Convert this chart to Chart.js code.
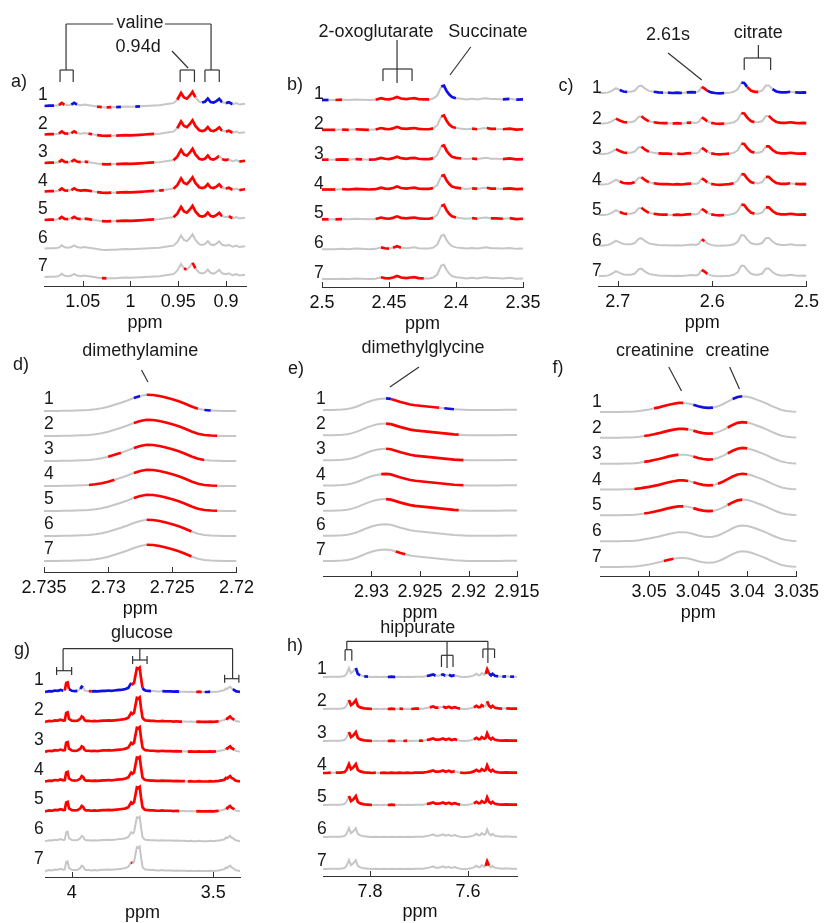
<!DOCTYPE html>
<html>
<head>
<meta charset="utf-8">
<script src="https://cdn.jsdelivr.net/npm/chart.js@4.4.1/dist/chart.umd.min.js"></script>
<style>
  html, body { margin: 0; padding: 0; background: #fff; }
  #fig { position: relative; width: 825px; height: 923px; overflow: hidden; }
  #fig canvas { position: absolute; }
</style>
</head>
<body>
<div id="fig"></div>
<script>
// NMR spectra, 7 stacked traces per panel, coloured where significant
const traceNames = ['1', '2', '3', '4', '5', '6', '7'];

// a) valine
const aPpm = [1.090,1.085,1.080,1.075,1.072,1.069,1.065,1.062,1.059,1.056,1.052,1.048,1.044,1.040,1.035,1.030,1.025,1.020,1.015,1.010,1.005,1.000,0.995,0.990,0.985,0.980,0.975,0.970,0.965,0.960,0.955,0.951,0.947,0.944,0.941,0.938,0.935,0.932,0.928,0.925,0.922,0.919,0.916,0.913,0.910,0.907,0.904,0.900,0.897,0.893,0.889,0.886,0.882,0.880];
const aInt = [0.00,0.01,0.01,0.03,0.11,0.04,0.03,0.05,0.11,0.05,0.03,0.05,0.03,0.01,-0.02,-0.04,-0.05,-0.04,-0.04,-0.03,-0.02,-0.03,-0.02,-0.01,0.00,0.01,0.02,0.03,0.05,0.08,0.10,0.22,0.46,0.30,0.26,0.36,0.50,0.30,0.15,0.12,0.15,0.26,0.14,0.12,0.17,0.25,0.13,0.10,0.13,0.06,0.10,0.05,0.07,0.08];
const aSig = [
  [[1.091,1.082,'b'],[1.074,1.069,'r'],[1.062,1.056,'b'],[1.036,1.030,'r'],[1.026,1.021,'r'],[1.016,1.009,'b'],[0.996,0.989,'b'],[0.952,0.932,'r'],[0.926,0.903,'b'],[0.899,0.893,'b']],
  [[1.091,1.081,'r'],[1.076,1.066,'r'],[1.063,1.055,'r'],[1.045,1.040,'r'],[1.035,1.018,'r'],[1.013,0.997,'r'],[0.993,0.976,'r'],[0.952,0.905,'r'],[0.901,0.893,'r']],
  [[1.091,1.078,'r'],[1.074,1.066,'r'],[1.062,1.052,'r'],[1.047,1.043,'r'],[1.032,1.018,'r'],[1.015,0.997,'r'],[0.993,0.976,'r'],[0.953,0.908,'r'],[0.903,0.896,'r'],[0.885,0.879,'r']],
  [[1.091,1.082,'r'],[1.076,1.064,'r'],[1.062,1.050,'r'],[1.046,1.040,'r'],[1.035,1.018,'r'],[1.014,0.997,'r'],[0.993,0.976,'r'],[0.968,0.964,'r'],[0.953,0.903,'r'],[0.900,0.893,'r'],[0.885,0.879,'r']],
  [[1.091,1.082,'r'],[1.074,1.066,'r'],[1.062,1.052,'r'],[1.046,1.042,'r'],[1.032,1.018,'r'],[1.013,0.997,'r'],[0.993,0.976,'r'],[0.953,0.904,'r'],[0.898,0.893,'r']],
  [],
  [[1.031,1.027,'r'],[0.945,0.941,'r'],[0.934,0.931,'r']]
];
const aTicks = [1.05, 1, 0.95, 0.9];
const aTickLabels = ['1.05', '1', '0.95', '0.9'];

// b) 2-oxoglutarate / succinate
const bPpm = [2.500,2.495,2.490,2.485,2.480,2.475,2.470,2.465,2.460,2.456,2.453,2.450,2.447,2.444,2.441,2.437,2.434,2.431,2.428,2.424,2.420,2.417,2.414,2.411,2.409,2.407,2.405,2.403,2.400,2.396,2.392,2.388,2.384,2.380,2.377,2.374,2.370,2.365,2.360,2.355,2.350];
const bInt = [0.00,0.00,0.00,0.01,0.00,0.02,0.01,0.00,0.01,0.06,0.03,0.02,0.05,0.10,0.05,0.03,0.05,0.06,0.03,0.02,0.02,0.05,0.15,0.45,0.48,0.30,0.18,0.10,0.06,0.04,0.02,0.04,0.02,0.05,0.06,0.03,0.03,0.02,0.04,0.01,0.02];
const bSig = [
  [[2.501,2.495,'b'],[2.491,2.484,'r'],[2.458,2.421,'r'],[2.4105,2.398,'b'],[2.366,2.361,'b'],[2.356,2.350,'b']],
  [[2.501,2.491,'r'],[2.487,2.480,'r'],[2.475,2.465,'r'],[2.461,2.417,'r'],[2.4105,2.398,'r'],[2.389,2.383,'r'],[2.376,2.369,'r'],[2.365,2.349,'r']],
  [[2.501,2.494,'r'],[2.491,2.481,'r'],[2.476,2.470,'r'],[2.466,2.460,'r'],[2.458,2.417,'r'],[2.4105,2.396,'r'],[2.388,2.383,'r'],[2.365,2.349,'r']],
  [[2.501,2.488,'r'],[2.486,2.470,'r'],[2.468,2.460,'r'],[2.458,2.417,'r'],[2.4105,2.396,'r'],[2.389,2.383,'r'],[2.376,2.369,'r'],[2.365,2.349,'r']],
  [[2.498,2.494,'r'],[2.490,2.484,'r'],[2.458,2.417,'r'],[2.4105,2.398,'r'],[2.389,2.384,'r'],[2.372,2.367,'r'],[2.362,2.349,'r']],
  [[2.455,2.450,'r'],[2.446,2.440,'r']],
  [[2.456,2.424,'r']]
];
const bTicks = [2.5, 2.45, 2.4, 2.35];
const bTickLabels = ['2.5', '2.45', '2.4', '2.35'];

// c) 2.61s / citrate
const cPpm = [2.720,2.715,2.710,2.706,2.702,2.698,2.694,2.690,2.686,2.682,2.678,2.675,2.671,2.667,2.662,2.657,2.652,2.647,2.642,2.637,2.632,2.627,2.622,2.617,2.614,2.611,2.608,2.605,2.601,2.597,2.592,2.587,2.582,2.577,2.573,2.569,2.566,2.563,2.559,2.555,2.551,2.547,2.543,2.540,2.536,2.532,2.527,2.522,2.517,2.512,2.507,2.503,2.500];
const cInt = [0.00,0.00,0.02,0.08,0.16,0.10,0.05,0.04,0.04,0.08,0.22,0.24,0.14,0.07,0.04,0.02,0.01,0.01,0.00,0.01,0.00,0.02,0.03,0.02,0.06,0.20,0.14,0.07,0.02,0.00,-0.01,0.00,0.01,0.04,0.12,0.34,0.33,0.20,0.08,0.04,0.04,0.08,0.25,0.25,0.13,0.05,0.02,0.02,0.04,0.02,0.01,0.02,0.01];
const cSig = [
  [[2.696,2.688,'b'],[2.660,2.650,'b'],[2.645,2.632,'b'],[2.625,2.619,'b'],[2.612,2.606,'r'],[2.603,2.594,'b'],[2.590,2.585,'b'],[2.568,2.562,'b'],[2.561,2.552,'r'],[2.534,2.524,'b'],[2.520,2.515,'b'],[2.510,2.500,'b']],
  [[2.700,2.692,'r'],[2.673,2.665,'r'],[2.660,2.645,'r'],[2.642,2.630,'r'],[2.627,2.620,'r'],[2.612,2.603,'r'],[2.600,2.585,'r'],[2.568,2.557,'r'],[2.541,2.500,'r']],
  [[2.700,2.692,'r'],[2.676,2.665,'r'],[2.657,2.640,'r'],[2.637,2.620,'r'],[2.612,2.603,'r'],[2.600,2.580,'r'],[2.568,2.557,'r'],[2.543,2.500,'r']],
  [[2.698,2.684,'r'],[2.676,2.665,'r'],[2.662,2.620,'r'],[2.612,2.603,'r'],[2.600,2.578,'r'],[2.568,2.557,'r'],[2.543,2.515,'r'],[2.510,2.500,'r']],
  [[2.698,2.692,'r'],[2.674,2.668,'r'],[2.660,2.645,'r'],[2.642,2.620,'r'],[2.612,2.603,'r'],[2.600,2.585,'r'],[2.568,2.557,'r'],[2.543,2.500,'r']],
  [[2.612,2.607,'r']],
  [[2.612,2.604,'r']]
];
const cTicks = [2.7, 2.6, 2.5];
const cTickLabels = ['2.7', '2.6', '2.5'];

// d) dimethylamine
const dPpm = [2.7350,2.7345,2.7340,2.7335,2.7330,2.7325,2.7320,2.7315,2.7310,2.7305,2.7300,2.7295,2.7290,2.7285,2.7280,2.7275,2.7270,2.7265,2.7260,2.7255,2.7250,2.7245,2.7240,2.7235,2.7230,2.7225,2.7220,2.7215,2.7210,2.7205,2.7200];
const dInt = [0.00,0.00,0.00,0.01,0.01,0.02,0.03,0.04,0.07,0.11,0.17,0.25,0.33,0.42,0.52,0.60,0.65,0.64,0.60,0.54,0.47,0.39,0.29,0.18,0.09,0.04,0.02,0.01,0.00,0.00,0.00];
const dSig = [
  [[2.7280,2.7276,'b'],[2.7271,2.7230,'r'],[2.7225,2.7222,'b']],
  [[2.7279,2.7217,'r']],
  [[2.7302,2.7290,'r'],[2.7279,2.7224,'r']],
  [[2.7316,2.7296,'r'],[2.7279,2.7217,'r']],
  [[2.7279,2.7217,'r']],
  [[2.7271,2.7234,'r']],
  [[2.7271,2.7234,'r']]
];
const dTicks = [2.735, 2.73, 2.725, 2.72];
const dTickLabels = ['2.735', '2.73', '2.725', '2.72'];

// e) dimethylglycine
const ePpm = [2.9350,2.9345,2.9340,2.9335,2.9330,2.9325,2.9320,2.9315,2.9310,2.9305,2.9300,2.9295,2.9290,2.9285,2.9280,2.9275,2.9270,2.9265,2.9260,2.9255,2.9250,2.9245,2.9240,2.9235,2.9230,2.9225,2.9220,2.9215,2.9210,2.9205,2.9200,2.9190,2.9180,2.9170,2.9160,2.9150];
const eInt = [0.00,0.00,0.00,0.01,0.02,0.04,0.08,0.14,0.22,0.30,0.37,0.42,0.45,0.46,0.44,0.38,0.32,0.27,0.22,0.19,0.17,0.15,0.13,0.11,0.09,0.07,0.05,0.03,0.02,0.01,0.00,0.00,0.00,0.00,0.01,0.01];
const eSig = [
  [[2.9286,2.9282,'b'],[2.9278,2.9228,'r'],[2.9223,2.9215,'b']],
  [[2.9285,2.9208,'r']],
  [[2.9285,2.9203,'r']],
  [[2.9291,2.9203,'r']],
  [[2.9285,2.9208,'r']],
  [],
  [[2.9273,2.9263,'r']]
];
const eTicks = [2.93, 2.925, 2.92, 2.915];
const eTickLabels = ['2.93', '2.925', '2.92', '2.915'];

// f) creatinine / creatine
const fPpm = [3.0550,3.0545,3.0540,3.0535,3.0530,3.0525,3.0520,3.0515,3.0510,3.0505,3.0500,3.0495,3.0490,3.0485,3.0480,3.0475,3.0470,3.0465,3.0460,3.0455,3.0450,3.0445,3.0440,3.0435,3.0430,3.0425,3.0420,3.0415,3.0410,3.0405,3.0400,3.0395,3.0390,3.0385,3.0380,3.0375,3.0370,3.0365,3.0360,3.0355,3.0350];
const fInt = [0.00,0.00,0.00,0.00,0.00,0.01,0.01,0.02,0.04,0.07,0.10,0.14,0.18,0.23,0.28,0.32,0.35,0.35,0.33,0.28,0.22,0.18,0.16,0.17,0.22,0.30,0.40,0.50,0.58,0.61,0.59,0.54,0.47,0.40,0.32,0.23,0.15,0.08,0.04,0.02,0.01];
const fSig = [
  [[3.0502,3.0498,'b'],[3.0494,3.0467,'r'],[3.0453,3.0437,'b'],[3.0414,3.0406,'b']],
  [[3.0506,3.0462,'r'],[3.0453,3.0437,'r'],[3.0421,3.0401,'r']],
  [[3.0506,3.0469,'r'],[3.0453,3.0437,'r'],[3.0421,3.0401,'r']],
  [[3.0513,3.0462,'r'],[3.0453,3.0437,'r'],[3.0428,3.0401,'r']],
  [[3.0506,3.0467,'r'],[3.0453,3.0437,'r'],[3.0421,3.0406,'r']],
  [],
  [[3.0483,3.0474,'r']]
];
const fTicks = [3.05, 3.045, 3.04, 3.035];
const fTickLabels = ['3.05', '3.045', '3.04', '3.035'];

// g) glucose
const gPpm = [4.095,4.090,4.080,4.070,4.060,4.050,4.040,4.030,4.025,4.020,4.015,4.010,4.000,3.990,3.980,3.970,3.965,3.960,3.955,3.950,3.940,3.930,3.920,3.910,3.900,3.890,3.880,3.870,3.860,3.850,3.840,3.830,3.820,3.810,3.800,3.795,3.790,3.785,3.780,3.775,3.770,3.765,3.760,3.755,3.750,3.745,3.740,3.730,3.720,3.710,3.700,3.690,3.680,3.670,3.660,3.650,3.640,3.630,3.620,3.610,3.600,3.590,3.580,3.570,3.560,3.550,3.540,3.530,3.520,3.510,3.500,3.490,3.480,3.470,3.460,3.455,3.450,3.445,3.440,3.435,3.430,3.425,3.420,3.410,3.405];
const gInt = [0.00,0.01,0.03,0.02,0.05,0.04,0.07,0.04,0.05,0.30,0.32,0.10,0.04,0.03,0.04,0.10,0.18,0.15,0.06,0.03,0.03,0.02,0.03,0.02,0.03,0.04,0.04,0.05,0.04,0.05,0.06,0.07,0.08,0.10,0.14,0.22,0.30,0.26,0.30,0.55,0.80,0.78,0.82,0.45,0.14,0.08,0.05,0.04,0.03,0.03,0.02,0.02,0.03,0.02,0.02,0.02,0.01,0.02,0.01,0.01,0.01,0.00,0.01,0.00,0.00,0.01,0.00,0.00,0.00,0.01,0.00,0.01,0.02,0.04,0.06,0.12,0.10,0.15,0.18,0.12,0.10,0.06,0.03,0.01,0.00];
const gSig = [
  [[4.095,4.075,'b'],[4.065,4.030,'b'],[4.026,4.009,'r'],[4.005,3.985,'b'],[3.972,3.958,'b'],[3.945,3.930,'r'],[3.925,3.905,'b'],[3.895,3.855,'b'],[3.845,3.790,'b'],[3.788,3.750,'r'],[3.750,3.720,'b'],[3.680,3.625,'b'],[3.560,3.545,'r'],[3.530,3.510,'b'],[3.432,3.405,'b']],
  [[4.095,3.945,'r'],[3.935,3.615,'r'],[3.560,3.485,'r'],[3.455,3.425,'r']],
  [[4.095,3.985,'r'],[3.975,3.610,'r'],[3.590,3.490,'r'],[3.455,3.425,'r']],
  [[4.095,3.595,'r'],[3.585,3.475,'r'],[3.465,3.405,'r']],
  [[4.095,3.945,'r'],[3.935,3.905,'r'],[3.895,3.625,'r'],[3.555,3.485,'r'],[3.455,3.425,'r']],
  [],
  [[3.792,3.783,'r']]
];
const gTicks = [4, 3.5];
const gTickLabels = ['4', '3.5'];

// h) hippurate
const hPpm = [7.896,7.890,7.880,7.870,7.860,7.852,7.848,7.843,7.839,7.834,7.829,7.825,7.820,7.812,7.804,7.796,7.788,7.780,7.772,7.764,7.756,7.748,7.740,7.732,7.724,7.716,7.708,7.700,7.692,7.684,7.678,7.671,7.666,7.660,7.655,7.651,7.646,7.639,7.634,7.627,7.622,7.616,7.608,7.600,7.594,7.588,7.583,7.578,7.575,7.572,7.567,7.564,7.561,7.557,7.553,7.550,7.545,7.538,7.530,7.522,7.514,7.506,7.500];
const hInt = [0.00,0.00,0.01,0.01,0.01,0.03,0.10,0.28,0.12,0.18,0.28,0.10,0.05,0.02,0.01,0.00,0.01,0.00,0.01,0.00,0.01,0.00,0.01,0.00,0.01,0.00,0.01,0.01,0.01,0.03,0.05,0.08,0.04,0.04,0.06,0.08,0.04,0.07,0.03,0.06,0.03,0.01,0.00,0.01,0.02,0.05,0.10,0.05,0.06,0.12,0.07,0.10,0.24,0.10,0.05,0.10,0.04,0.02,0.01,0.02,0.01,0.01,0.01];
const hSig = [
  [[7.831,7.822,'b'],[7.816,7.808,'b'],[7.760,7.752,'b'],[7.681,7.668,'b'],[7.656,7.643,'b'],[7.637,7.627,'b'],[7.5625,7.558,'r'],[7.557,7.540,'b'],[7.532,7.526,'b'],[7.518,7.510,'b']],
  [[7.845,7.800,'r'],[7.760,7.750,'r'],[7.738,7.730,'r'],[7.712,7.704,'r'],[7.678,7.658,'r'],[7.652,7.616,'r'],[7.590,7.566,'r'],[7.562,7.530,'r'],[7.520,7.500,'r']],
  [[7.843,7.800,'r'],[7.766,7.750,'r'],[7.730,7.722,'r'],[7.704,7.696,'r'],[7.686,7.620,'r'],[7.590,7.500,'r']],
  [[7.896,7.876,'r'],[7.866,7.790,'r'],[7.784,7.720,'r'],[7.714,7.625,'r'],[7.614,7.500,'r']],
  [[7.843,7.800,'r'],[7.760,7.750,'r'],[7.686,7.618,'r'],[7.590,7.500,'r']],
  [],
  [[7.563,7.557,'r']]
];
const hTicks = [7.8, 7.6];
const hTickLabels = ['7.8', '7.6'];

const FONT = '"Liberation Sans", Arial, sans-serif';
const GRAY = '#c6c6c6';
const SIG_COLORS = { r: '#ff0000', b: '#1010e0' };

// layout: box = canvas [left, top, w, h]; L/R chart edges, b1/b7 trace baselines, axis line (canvas px)
const panels = [
  { tag: 'a)', ppm: aPpm, int: aInt, sig: aSig, ticks: aTicks, labels: aTickLabels, range: [0.879, 1.0906],
    box: [0, 0, 260, 340], L: 44, R: 246, b1: 106, b7: 277, axis: 286, top: 76, axisH: 47,
    numDx: -6, numDy: 6, tagX: 19, tagY: 82,
    notes: [['t', 0.990, 23, 'valine'], ['t', 0.992, 47, '0.94d'],
      ['l', 1.0675, 24, 1.018, 24], ['l', 0.964, 24, 0.9156, 24], ['l', 1.0675, 24, 1.0675, 70], ['l', 0.9156, 24, 0.9156, 70],
      ['l', 1.0738, 70, 1.060, 70], ['l', 1.0738, 70, 1.0738, 82], ['l', 1.060, 70, 1.060, 82],
      ['l', 0.948, 70, 0.933, 70], ['l', 0.948, 70, 0.948, 82], ['l', 0.933, 70, 0.933, 82],
      ['l', 0.922, 70, 0.907, 70], ['l', 0.922, 70, 0.922, 82], ['l', 0.907, 70, 0.907, 82],
      ['l', 0.9565, 51, 0.9397, 68]] },
  { tag: 'b)', ppm: bPpm, int: bInt, sig: bSig, ticks: bTicks, labels: bTickLabels, range: [2.35, 2.5],
    box: [260, 0, 290, 340], L: 62, R: 263, b1: 100, b7: 279, axis: 287, top: 70, axisH: 47,
    numDx: -8, numDy: 1, tagX: 35, tagY: 85,
    notes: [['t', 2.4597, 32, '2-oxoglutarate'], ['t', 2.3762, 32, 'Succinate'],
      ['l', 2.444, 40, 2.444, 83], ['l', 2.4545, 69, 2.4328, 69], ['l', 2.4545, 69, 2.4545, 81], ['l', 2.4328, 69, 2.4328, 81],
      ['l', 2.389, 47, 2.4045, 75]] },
  { tag: 'c)', ppm: cPpm, int: cInt, sig: cSig, ticks: cTicks, labels: cTickLabels, range: [2.5, 2.721],
    box: [550, 0, 275, 340], L: 48, R: 258, b1: 93, b7: 276, axis: 286, top: 63, axisH: 47,
    numDx: -6, numDy: 0, tagX: 16, tagY: 86,
    notes: [['t', 2.6467, 35, '2.61s'], ['l', 2.6467, 53, 2.611, 80],
      ['t', 2.551, 33, 'citrate'], ['l', 2.551, 45, 2.551, 58], ['l', 2.566, 58, 2.538, 58], ['l', 2.566, 58, 2.566, 70], ['l', 2.538, 58, 2.538, 70]] },
  { tag: 'd)', ppm: dPpm, int: dInt, sig: dSig, ticks: dTicks, labels: dTickLabels, range: [2.72, 2.735],
    box: [0, 330, 260, 300], L: 44, R: 240, b1: 81, b7: 231, axis: 242, top: 56, axisH: 47,
    numDx: 0, numDy: 7, tagX: 21, tagY: 35,
    notes: [['t', 2.7275, 21, 'dimethylamine'], ['l', 2.7274, 40, 2.7269, 52]] },
  { tag: 'e)', ppm: ePpm, int: eInt, sig: eSig, ticks: eTicks, labels: eTickLabels, range: [2.915, 2.935],
    box: [260, 330, 290, 300], L: 63, R: 257, b1: 80, b7: 231, axis: 246, top: 55, axisH: 47,
    numDx: -7, numDy: 6, tagX: 36, tagY: 39,
    notes: [['t', 2.9247, 18, 'dimethylglycine'], ['l', 2.9251, 37, 2.9281, 57]] },
  { tag: 'f)', ppm: fPpm, int: fInt, sig: fSig, ticks: fTicks, labels: fTickLabels, range: [3.035, 3.055],
    box: [550, 330, 275, 300], L: 50, R: 250, b1: 82, b7: 237, axis: 246, top: 57, axisH: 47,
    numDx: -8, numDy: 5, tagX: 8, tagY: 38,
    notes: [['t', 3.0494, 21, 'creatinine'], ['t', 3.041, 21, 'creatine'],
      ['l', 3.048, 37, 3.0467, 61], ['l', 3.0418, 37, 3.0408, 59]] },
  { tag: 'g)', ppm: gPpm, int: gInt, sig: gSig, ticks: gTicks, labels: gTickLabels, range: [3.405, 4.095],
    box: [0, 610, 260, 313], L: 45, R: 240, b1: 82, b7: 261, axis: 267, top: 45, axisH: 46,
    numDx: -11, numDy: 7, tagX: 22, tagY: 40,
    notes: [['t', 3.752, 23, 'glucose'],
      ['l', 4.031, 38.7, 3.4312, 38.7],
      ['l', 4.031, 38.7, 4.031, 60.7], ['l', 4.054, 60.7, 4.0007, 60.7], ['l', 4.054, 57, 4.054, 65], ['l', 4.0007, 57, 4.0007, 65],
      ['l', 3.7595, 38.7, 3.7595, 50], ['l', 3.785, 50, 3.7338, 50], ['l', 3.785, 46, 3.785, 54], ['l', 3.7338, 46, 3.7338, 54],
      ['l', 3.4312, 38.7, 3.4312, 68.7], ['l', 3.4594, 68.7, 3.409, 68.7], ['l', 3.4594, 64.7, 3.4594, 72.7], ['l', 3.409, 64.7, 3.409, 72.7]] },
  { tag: 'h)', ppm: hPpm, int: hInt, sig: hSig, ticks: hTicks, labels: hTickLabels, range: [7.5, 7.896],
    box: [260, 610, 290, 313], L: 63, R: 257, b1: 67, b7: 259, axis: 266, top: 40, axisH: 46,
    numDx: -6, numDy: 3, tagX: 35, tagY: 36,
    notes: [['t', 7.7024, 18, 'hippurate'],
      ['l', 7.8474, 31.3, 7.5594, 31.3],
      ['l', 7.8474, 31.3, 7.8474, 39.7], ['l', 7.8509, 39.7, 7.8372, 39.7], ['l', 7.8509, 39.7, 7.8509, 50.7], ['l', 7.8372, 39.7, 7.8372, 50.7],
      ['l', 7.6428, 31.3, 7.6428, 58], ['l', 7.6542, 45.3, 7.6306, 45.3], ['l', 7.6542, 45.3, 7.6542, 57], ['l', 7.6306, 45.3, 7.6306, 57],
      ['l', 7.5594, 31.3, 7.5594, 53], ['l', 7.5696, 39, 7.5458, 39], ['l', 7.5696, 39, 7.5696, 48], ['l', 7.5458, 39, 7.5458, 48]] }
];

// colour of a line segment from the significance ranges of its trace
function sigColor(ranges, c) {
  const m = (c.p0.parsed.x + c.p1.parsed.x) / 2;
  for (const [hi, lo, k] of ranges) {
    if (m <= hi && m >= lo) return SIG_COLORS[k];
  }
  return null;
}

// tick marks (inward), trace numbers, panel letter and annotations
function decor(p) {
  return {
    id: 'decor',
    afterDraw(chart) {
      const { ctx, chartArea: ca, scales: { x, y } } = chart;
      ctx.save();
      ctx.strokeStyle = '#333';
      ctx.lineWidth = 1;
      x.ticks.forEach(t => {
        const px = Math.round(x.getPixelForValue(t.value)) + 0.5;
        ctx.beginPath();
        ctx.moveTo(px, ca.bottom);
        ctx.lineTo(px, ca.bottom - 5);
        ctx.stroke();
      });

      ctx.fillStyle = '#1a1a1a';
      ctx.font = '17.5px ' + FONT;
      ctx.textAlign = 'left';
      ctx.textBaseline = 'alphabetic';
      traceNames.forEach((n, i) => {
        ctx.fillText(n, ca.left + p.numDx, y.getPixelForValue(6 - i) - p.numDy);
      });

      ctx.font = '18px ' + FONT;
      ctx.textAlign = 'center';
      ctx.textBaseline = 'middle';
      ctx.fillText(p.tag, p.tagX, p.tagY);

      ctx.lineWidth = 1.2;
      p.notes.forEach(n => {
        if (n[0] === 't') {
          ctx.fillText(n[3], x.getPixelForValue(n[1]), n[2]);
        } else {
          ctx.beginPath();
          ctx.moveTo(x.getPixelForValue(n[1]), n[2]);
          ctx.lineTo(x.getPixelForValue(n[3]), n[4]);
          ctx.stroke();
        }
      });
      ctx.restore();
    }
  };
}

Chart.defaults.font.family = FONT;
const fig = document.getElementById('fig');

panels.forEach(p => {
  const [bx, by, bw, bh] = p.box;
  const cv = document.createElement('canvas');
  cv.width = bw;
  cv.height = bh;
  cv.style.left = bx + 'px';
  cv.style.top = by + 'px';
  cv.style.width = bw + 'px';
  cv.style.height = bh + 'px';
  fig.appendChild(cv);

  const step = (p.b7 - p.b1) / 6;
  const ymin = -(p.axis - p.b7) / step;
  const ymax = 6 + (p.b1 - p.top) / step;

  new Chart(cv, {
    type: 'line',
    data: {
      datasets: traceNames.map((name, i) => ({
        label: name,
        data: p.ppm.map((v, j) => ({ x: v, y: p.int[j] + 6 - i })),
        borderColor: GRAY,
        borderWidth: 2,
        pointRadius: 0,
        tension: 0,
        segment: {
          borderColor: c => sigColor(p.sig[i], c) || GRAY,
          borderWidth: c => (sigColor(p.sig[i], c) ? 2.7 : 2)
        }
      }))
    },
    options: {
      responsive: false,
      animation: false,
      events: [],
      layout: { padding: { left: p.L, right: bw - p.R, top: p.top, bottom: bh - p.axis - p.axisH } },
      plugins: { legend: { display: false }, tooltip: { enabled: false } },
      scales: {
        x: {
          type: 'linear',
          reverse: true,
          min: p.range[0],
          max: p.range[1],
          afterBuildTicks: s => { s.ticks = p.ticks.map(v => ({ value: v })); },
          afterFit: s => { s.height = p.axisH; },
          grid: { display: false, drawTicks: false },
          border: { display: true, color: '#333', width: 1 },
          ticks: {
            color: '#111',
            font: { size: 18, lineHeight: 1.1 },
            padding: 6,
            maxRotation: 0,
            autoSkip: false,
            callback: (v, i) => p.labels[i]
          },
          title: { display: true, text: 'ppm', color: '#111', font: { size: 18, lineHeight: 1.1 }, padding: { top: 1, bottom: 0 } }
        },
        y: { display: false, min: ymin, max: ymax }
      }
    },
    plugins: [decor(p)]
  });
});
</script>
</body>
</html>
